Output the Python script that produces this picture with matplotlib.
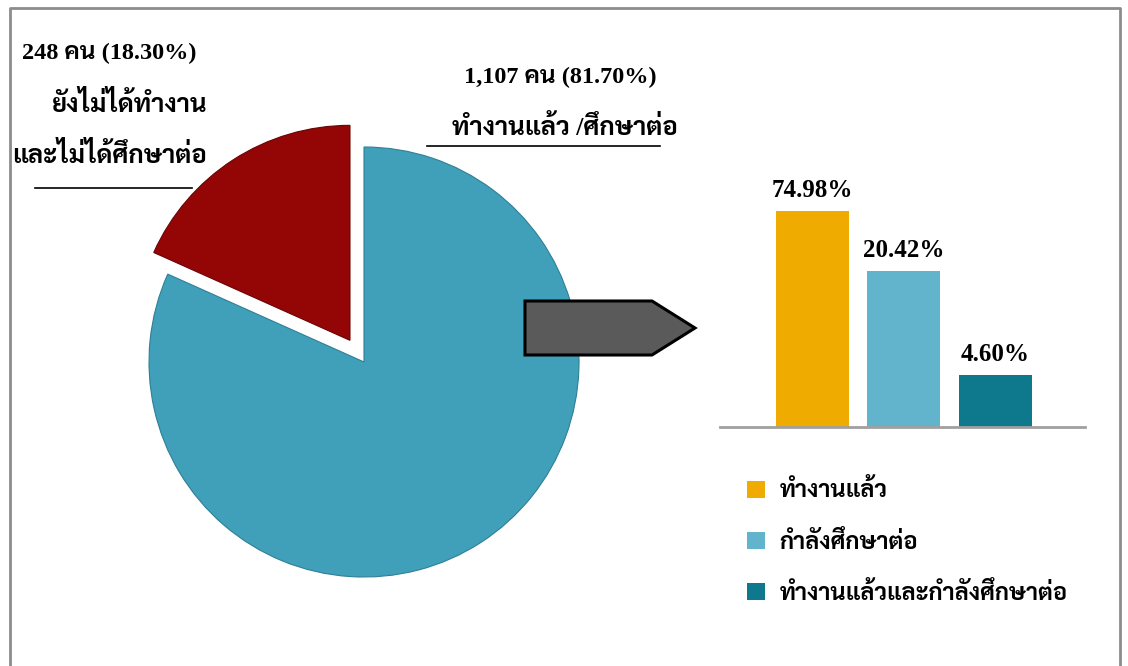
import matplotlib
matplotlib.use("Agg")
import matplotlib.pyplot as plt
from matplotlib.patches import Patch, Polygon
from matplotlib.lines import Line2D
from matplotlib.ticker import NullLocator

# data
pie_labels = ["ทำงานแล้ว /ศึกษาต่อ", "ยังไม่ได้ทำงาน\nและไม่ได้ศึกษาต่อ"]
pie_counts = [1107, 248]
pie_pct = [81.70, 18.30]
pie_colors = ["#40A0BA", "#940606"]

bar_labels = ["ทำงานแล้ว", "กำลังศึกษาต่อ", "ทำงานแล้วและกำลังศึกษาต่อ"]
bar_values = [74.98, 20.42, 4.60]
bar_colors = ["#F0AB00", "#62B3CC", "#0E788C"]

W, H = 1128, 666
plt.rcParams['font.family'] = ['Liberation Serif', 'Sarabun']
plt.rcParams['font.weight'] = 'bold'


def px(x, y):
    """pixel position (from top left) -> figure fraction"""
    return x / W, 1 - y / H


def box(x0, y0, x1, y1):
    return [x0 / W, 1 - y1 / H, (x1 - x0) / W, (y1 - y0) / H]


fig = plt.figure(figsize=(W / 100, H / 100), dpi=100)

# outer frame (open at the bottom)
frame = Line2D([10 / W, 10 / W, 1120 / W, 1120 / W], [0, 1 - 8 / H, 1 - 8 / H, 0],
               transform=fig.transFigure, color="#8C8C8C", lw=2)
fig.add_artist(frame)

# pie, red part pulled out
r_px = 215
half = 250
ax_pie = fig.add_axes(box(364 - half, 362 - half, 364 + half, 362 + half))
ax_pie.pie(pie_pct, colors=pie_colors, startangle=90, counterclock=False,
           explode=[0, 0.12], radius=1,
           wedgeprops=dict(edgecolor="#2E7F96", linewidth=0.8))
ax_pie.patches[1].set_edgecolor("#6A0303")
ax_pie.set_xlim(-half / r_px, half / r_px)
ax_pie.set_ylim(-half / r_px, half / r_px)
ax_pie.axis("off")

# pie labels
fs_num = 17.5
fs_thai = 18.5
fig.text(*px(109, 53), "{} คน ({:.2f}%)".format(pie_counts[1], pie_pct[1]),
         ha="center", va="center", fontsize=fs_num)
line1, line2 = pie_labels[1].split("\n")
fig.text(*px(130, 104), line1, ha="center", va="center", fontsize=fs_thai)
fig.text(*px(109, 155), line2, ha="center", va="center", fontsize=fs_thai)
fig.add_artist(Line2D([35 / W, 192 / W], [1 - 188 / H] * 2, transform=fig.transFigure,
                      color="black", lw=1.2))

fig.text(*px(560, 77), "{:,} คน ({:.2f}%)".format(pie_counts[0], pie_pct[0]),
         ha="center", va="center", fontsize=fs_num)
fig.text(*px(565, 128), pie_labels[0], ha="center", va="center", fontsize=fs_thai)
fig.add_artist(Line2D([427 / W, 660 / W], [1 - 146 / H] * 2, transform=fig.transFigure,
                      color="black", lw=1.2))

# arrow shape
arrow_pts = [px(525, 301), px(652, 301), px(695, 328), px(652, 355), px(525, 355)]
fig.add_artist(Polygon(arrow_pts, closed=True, transform=fig.transFigure,
                       facecolor="#5A5A5A", edgecolor="black", lw=2.2))

# bar chart; the bars in the source are not linear, symlog reproduces them
ax_bar = fig.add_axes(box(720, 160, 1085, 427))
x = range(len(bar_values))
ax_bar.bar(x, bar_values, width=0.8, color=bar_colors)
ax_bar.set_yscale("symlog", linthresh=11.5, linscale=1.1)
ax_bar.set_ylim(0, 228)
ax_bar.set_xlim(-1.014, 2.986)
for i, v in zip(x, bar_values):
    ax_bar.annotate("{:.2f}%".format(v), (i, v), xytext=(0, 10), textcoords="offset points",
                    ha="center", va="baseline", fontsize=18)
for s in ["top", "right", "left"]:
    ax_bar.spines[s].set_visible(False)
ax_bar.spines["bottom"].set_color("#A0A0A0")
ax_bar.spines["bottom"].set_linewidth(2)
ax_bar.set_xticks([])
ax_bar.set_yticks([])
ax_bar.yaxis.set_minor_locator(NullLocator())
ax_bar.tick_params(which="both", length=0)
ax_bar.patch.set_alpha(0)

handles = [Patch(facecolor=c, edgecolor="none") for c in bar_colors]
fig.legend(handles, bar_labels, loc="upper left", bbox_to_anchor=px(738, 470),
           frameon=False, fontsize=17, handlelength=0.75, handleheight=0.75,
           handletextpad=0.6, labelspacing=1.2, borderaxespad=0)

fig.savefig("out.png", dpi=100)
